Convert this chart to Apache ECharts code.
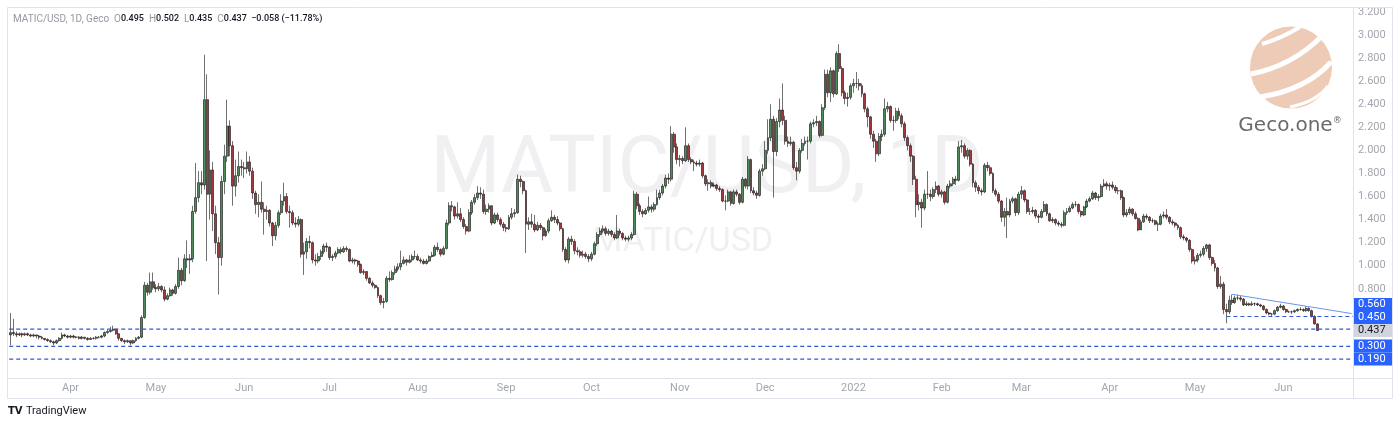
<!DOCTYPE html>
<html><head><meta charset="utf-8">
<script src="https://cdn.jsdelivr.net/npm/echarts@6/dist/echarts.min.js"></script>
<style>html,body{margin:0;padding:0;background:#fff}#c{width:1400px;height:425px}</style>
</head><body><div id="c"></div>
<script>
// ---------------- DATA ----------------
const startDate = '2021-03-11';
const futureDays = 12;          // empty days right of the last candle
const firstOpen = 0.40;
// daily closes, month by month
const closes = [
 // Mar 2021 (11-31)
 0.42,0.41,0.40,0.41,0.40,0.41,0.40,0.39,0.40,0.39,0.38,0.37,0.36,0.35,0.34,0.33,0.35,0.37,0.40,0.39,0.38,
 // Apr 2021
 0.39,0.38,0.38,0.37,0.38,0.37,0.36,0.37,0.37,0.38,0.38,0.39,0.42,0.43,0.44,0.45,0.41,0.37,0.35,0.34,0.35,0.33,0.35,0.37,0.38,0.55,0.83,0.77,0.86,0.81,
 // May 2021
 0.80,0.82,0.79,0.71,0.74,0.79,0.76,0.82,0.96,0.87,1.06,1.05,1.06,1.47,1.59,1.72,1.70,2.44,1.62,1.83,1.45,1.20,1.07,1.73,1.95,2.21,2.04,1.69,1.78,1.86,1.85,
 // Jun 2021
 1.84,1.90,1.82,1.63,1.53,1.55,1.49,1.47,1.48,1.37,1.26,1.35,1.46,1.56,1.60,1.47,1.46,1.37,1.36,1.40,1.10,1.12,1.21,1.20,1.05,1.04,1.08,1.12,1.17,1.16,
 // Jul 2021
 1.07,1.08,1.11,1.14,1.12,1.15,1.14,1.04,1.05,1.04,1.01,0.94,0.95,0.89,0.85,0.83,0.81,0.74,0.68,0.69,0.89,0.88,0.94,0.97,0.99,1.02,1.05,1.03,1.05,1.08,1.08,
 // Aug 2021
 1.05,1.04,1.02,1.04,1.08,1.09,1.16,1.14,1.10,1.15,1.37,1.52,1.51,1.43,1.45,1.40,1.34,1.30,1.46,1.55,1.59,1.63,1.62,1.47,1.49,1.52,1.37,1.44,1.40,1.36,1.33,
 // Sep 2021
 1.32,1.42,1.45,1.46,1.75,1.73,1.65,1.36,1.38,1.36,1.31,1.35,1.33,1.26,1.30,1.39,1.42,1.40,1.37,1.32,1.14,1.05,1.23,1.21,1.13,1.12,1.09,1.10,1.08,1.06,
 // Oct 2021
 1.10,1.19,1.27,1.30,1.32,1.28,1.30,1.27,1.24,1.30,1.28,1.24,1.23,1.24,1.27,1.62,1.52,1.47,1.45,1.48,1.51,1.49,1.53,1.59,1.63,1.69,1.76,1.75,2.14,2.03,1.92,
 // Nov 2021
 1.93,1.91,2.04,1.92,1.90,1.89,1.88,1.89,1.78,1.71,1.72,1.69,1.70,1.67,1.66,1.56,1.56,1.64,1.54,1.64,1.62,1.55,1.75,1.69,1.92,1.65,1.63,1.61,1.82,1.84,
 // Dec 2021
 2.00,2.11,2.27,1.99,2.25,2.35,2.26,2.08,2.06,2.07,1.85,1.82,2.00,2.06,2.08,2.08,2.23,2.24,2.25,2.13,2.37,2.66,2.50,2.69,2.49,2.84,2.71,2.50,2.45,2.46,2.56,
 // Jan 2022
 2.58,2.58,2.56,2.49,2.36,2.29,2.14,2.08,1.97,2.12,2.14,2.36,2.38,2.26,2.26,2.34,2.30,2.23,2.11,2.04,1.95,1.75,1.53,1.55,1.50,1.62,1.62,1.60,1.66,1.69,1.62,
 // Feb 2022
 1.64,1.55,1.69,1.71,1.75,1.74,2.03,2.04,1.95,2.00,1.88,1.72,1.68,1.65,1.64,1.87,1.85,1.80,1.65,1.62,1.56,1.42,1.47,1.44,1.56,1.58,1.46,1.62,
 // Mar 2022
 1.65,1.57,1.47,1.47,1.48,1.43,1.42,1.47,1.53,1.45,1.39,1.40,1.37,1.36,1.35,1.46,1.47,1.50,1.53,1.53,1.47,1.44,1.51,1.56,1.58,1.63,1.59,1.60,1.69,1.71,1.69,
 // Apr 2022
 1.70,1.68,1.65,1.65,1.59,1.44,1.46,1.49,1.45,1.41,1.31,1.38,1.43,1.42,1.39,1.39,1.36,1.36,1.43,1.44,1.42,1.38,1.37,1.35,1.33,1.25,1.24,1.22,1.14,1.04,
 // May 2022
 1.05,1.09,1.10,1.15,1.18,1.07,1.02,0.98,0.82,0.84,0.62,0.60,0.70,0.68,0.72,0.72,0.71,0.66,0.67,0.66,0.67,0.67,0.66,0.65,0.62,0.59,0.58,0.58,0.61,0.64,0.65,
 // Jun 2022 (1-13)
 0.62,0.60,0.60,0.60,0.61,0.62,0.62,0.61,0.63,0.61,0.56,0.495,0.437
];
const highs = [
 0.59,0.54,0.43,0.42,0.42,0.42,0.42,0.41,0.41,0.40,0.40,0.39,0.37,0.37,0.36,0.35,0.36,0.38,0.42,0.41,0.40,
 0.40,0.40,0.39,0.39,0.39,0.38,0.38,0.38,0.38,0.39,0.39,0.40,0.43,0.45,0.47,0.48,0.45,0.41,0.37,0.36,0.36,0.35,0.36,0.38,0.39,0.57,0.86,0.85,0.94,0.94,
 0.84,0.85,0.83,0.82,0.76,0.81,0.80,0.84,1.07,0.98,1.10,1.22,1.10,1.52,1.89,1.82,1.82,2.83,2.66,2.00,1.90,1.52,1.25,1.78,2.05,2.44,2.26,2.08,1.92,1.99,1.92,
 1.90,1.99,1.95,1.85,1.65,1.62,1.73,1.55,1.52,1.49,1.38,1.38,1.48,1.62,1.72,1.63,1.52,1.48,1.42,1.43,1.41,1.20,1.24,1.26,1.21,1.10,1.11,1.14,1.19,1.20,
 1.17,1.10,1.13,1.16,1.16,1.17,1.17,1.15,1.07,1.06,1.05,1.02,0.97,0.95,0.90,0.87,0.84,0.82,0.75,0.72,0.91,0.95,0.96,1.00,1.02,1.13,1.08,1.06,1.09,1.10,1.13,
 1.10,1.07,1.06,1.06,1.09,1.12,1.18,1.20,1.15,1.17,1.40,1.55,1.56,1.52,1.55,1.50,1.42,1.36,1.49,1.57,1.62,1.69,1.68,1.66,1.53,1.54,1.52,1.46,1.46,1.42,1.38,
 1.36,1.44,1.50,1.49,1.79,1.78,1.74,1.66,1.42,1.45,1.44,1.38,1.37,1.34,1.32,1.41,1.48,1.44,1.43,1.38,1.33,1.16,1.25,1.26,1.23,1.16,1.14,1.13,1.12,1.10,
 1.12,1.21,1.29,1.33,1.35,1.34,1.32,1.31,1.29,1.44,1.32,1.29,1.26,1.26,1.29,1.65,1.64,1.54,1.49,1.50,1.60,1.53,1.55,1.66,1.66,1.71,1.79,1.80,2.21,2.16,2.06,
 1.96,1.95,2.20,2.06,1.94,1.92,1.91,1.92,1.90,1.79,1.75,1.74,1.72,1.71,1.69,1.67,1.61,1.66,1.65,1.66,1.66,1.63,1.77,1.76,1.95,1.93,1.68,1.65,1.84,1.88,
 2.08,2.27,2.40,2.30,2.28,2.45,2.58,2.30,2.12,2.12,2.08,1.90,2.02,2.10,2.12,2.12,2.25,2.27,2.30,2.26,2.40,2.70,2.70,2.72,2.70,2.86,2.92,2.73,2.52,2.50,2.58,
 2.62,2.68,2.62,2.58,2.50,2.38,2.30,2.17,2.10,2.15,2.18,2.45,2.42,2.39,2.30,2.37,2.37,2.32,2.25,2.13,2.06,1.96,1.78,1.62,1.58,1.66,1.82,1.66,1.68,1.73,1.70,
 1.66,1.65,1.71,1.74,1.77,1.78,2.08,2.09,2.06,2.02,2.01,1.89,1.74,1.70,1.67,1.89,1.90,1.87,1.81,1.67,1.64,1.57,1.50,1.59,1.58,1.60,1.59,1.64,
 1.69,1.66,1.58,1.50,1.51,1.49,1.45,1.49,1.56,1.54,1.46,1.42,1.41,1.39,1.38,1.48,1.50,1.52,1.55,1.56,1.54,1.48,1.52,1.58,1.60,1.65,1.64,1.62,1.71,1.75,1.73,
 1.72,1.73,1.70,1.68,1.66,1.60,1.49,1.51,1.50,1.47,1.42,1.40,1.45,1.45,1.43,1.41,1.40,1.38,1.45,1.47,1.49,1.43,1.40,1.38,1.36,1.34,1.27,1.25,1.23,1.15,
 1.08,1.11,1.13,1.17,1.19,1.19,1.08,1.05,0.99,0.91,0.86,0.67,0.74,0.75,0.74,0.75,0.74,0.72,0.69,0.68,0.69,0.68,0.68,0.67,0.66,0.63,0.60,0.59,0.62,0.65,0.67,
 0.66,0.63,0.61,0.61,0.62,0.63,0.64,0.63,0.65,0.64,0.62,0.57,0.502
];
const lows = [
 0.31,0.39,0.38,0.39,0.38,0.39,0.39,0.38,0.38,0.37,0.36,0.36,0.35,0.34,0.33,0.31,0.32,0.34,0.36,0.38,0.37,
 0.37,0.37,0.37,0.36,0.36,0.36,0.35,0.36,0.36,0.36,0.37,0.37,0.38,0.41,0.42,0.43,0.40,0.35,0.34,0.32,0.33,0.31,0.32,0.34,0.36,0.37,0.54,0.74,0.75,0.79,
 0.77,0.78,0.77,0.69,0.70,0.73,0.74,0.75,0.80,0.83,0.86,0.98,0.93,1.03,1.45,1.55,1.62,1.66,1.04,1.40,1.30,1.10,0.75,1.00,1.62,1.90,1.95,1.52,1.60,1.72,1.78,
 1.76,1.80,1.78,1.58,1.45,1.42,1.46,1.27,1.40,1.34,1.17,1.22,1.33,1.44,1.52,1.45,1.33,1.35,1.33,1.34,1.07,0.92,1.06,1.15,1.02,1.00,1.02,1.05,1.10,1.12,
 1.05,1.04,1.06,1.10,1.10,1.11,1.12,1.03,1.02,1.01,0.99,0.93,0.92,0.87,0.84,0.81,0.80,0.72,0.66,0.63,0.68,0.86,0.87,0.92,0.95,0.96,1.01,1.00,1.02,1.03,1.06,
 1.04,1.02,1.01,1.01,1.03,1.07,1.08,1.12,1.08,1.09,1.14,1.35,1.47,1.40,1.41,1.38,1.32,1.27,1.29,1.44,1.53,1.57,1.58,1.45,1.44,1.46,1.35,1.36,1.38,1.34,1.30,
 1.29,1.31,1.40,1.42,1.45,1.68,1.62,1.11,1.31,1.33,1.29,1.30,1.31,1.22,1.25,1.28,1.38,1.37,1.35,1.30,1.12,1.03,1.02,1.18,1.10,1.09,1.07,1.07,1.06,1.03,
 1.04,1.09,1.17,1.25,1.28,1.26,1.26,1.25,1.22,1.23,1.26,1.22,1.21,1.21,1.22,1.26,1.49,1.44,1.42,1.44,1.46,1.46,1.47,1.52,1.57,1.61,1.67,1.71,1.73,1.98,1.88,
 1.86,1.88,1.90,1.90,1.88,1.82,1.86,1.86,1.76,1.69,1.65,1.67,1.68,1.65,1.64,1.55,1.48,1.55,1.52,1.53,1.60,1.53,1.54,1.67,1.66,1.63,1.61,1.58,1.60,1.78,
 1.83,1.97,2.08,1.59,1.95,2.20,2.22,2.05,2.03,2.04,1.83,1.74,1.80,1.98,2.04,1.92,2.06,2.20,2.21,2.11,2.12,2.35,2.46,2.42,2.46,2.48,2.68,2.47,2.40,2.38,2.44,
 2.50,2.54,2.52,2.46,2.33,2.20,2.10,2.02,1.90,1.95,2.08,2.12,2.33,2.24,2.17,2.24,2.27,2.20,2.08,2.00,1.90,1.70,1.42,1.48,1.33,1.48,1.58,1.56,1.58,1.63,1.60,
 1.59,1.53,1.54,1.67,1.69,1.70,1.73,1.98,1.93,1.92,1.86,1.68,1.64,1.62,1.61,1.63,1.82,1.78,1.63,1.60,1.54,1.38,1.34,1.24,1.42,1.54,1.43,1.44,
 1.58,1.55,1.45,1.44,1.45,1.41,1.37,1.41,1.46,1.43,1.38,1.37,1.35,1.34,1.33,1.34,1.44,1.46,1.49,1.51,1.45,1.42,1.43,1.50,1.55,1.57,1.57,1.56,1.59,1.68,1.66,
 1.65,1.66,1.63,1.62,1.57,1.42,1.42,1.44,1.43,1.40,1.30,1.31,1.37,1.40,1.37,1.37,1.35,1.30,1.35,1.41,1.40,1.36,1.35,1.33,1.31,1.23,1.22,1.20,1.12,1.02,
 1.01,1.03,1.07,1.08,1.12,1.05,1.00,0.95,0.80,0.80,0.58,0.50,0.58,0.66,0.67,0.70,0.69,0.65,0.65,0.65,0.65,0.65,0.65,0.64,0.61,0.58,0.57,0.56,0.57,0.60,0.63,
 0.61,0.59,0.59,0.58,0.59,0.60,0.61,0.60,0.60,0.60,0.55,0.49,0.435
];
// horizontal levels drawn on the chart
const levelLines = [0.45, 0.30, 0.19];
const shortLevel = 0.56, shortLevelFrom = '2022-05-12';
const trendFrom = ['2022-05-14', 0.752], trendToValue = 0.585;
// price-scale badges
const badgeBlue = [0.56, 0.45, 0.30, 0.19];
const badgeLast = 0.437;
// header legend
const header = {sym:'MATIC/USD, 1D, Geco', o:'0.495', h:'0.502', l:'0.435', c:'0.437', chg:'\u22120.058 (\u221211.78%)'};
const monthNames = ['Jan','Feb','Mar','Apr','May','Jun','Jul','Aug','Sep','Oct','Nov','Dec'];

// ---------------- BUILD ----------------
const dates = [];
{
  const d0 = new Date(startDate + 'T00:00:00Z');
  for (let i = 0; i < closes.length + futureDays; i++) {
    const d = new Date(d0.getTime() + i * 86400000);
    dates.push(d.toISOString().slice(0, 10));
  }
}
const ohlc = closes.map((c, i) => [i === 0 ? firstOpen : closes[i - 1], c, lows[i], highs[i]]);

const FONT = 'Roboto, "Noto Sans", sans-serif';
const chart = echarts.init(document.getElementById('c'), null, {renderer: 'canvas'});
const blue = '#2962ff';
const dashBlue = '#2f5ad0';
const lastDate = dates[dates.length - 1];

chart.setOption({
  animation: false,
  backgroundColor: '#ffffff',
  grid: {left: 9.3, right: 46.9, top: 12, bottom: 44, containLabel: false},
  xAxis: {
    type: 'category', data: dates, boundaryGap: true,
    axisLine: {show: false}, axisTick: {show: false}, splitLine: {show: false},
    axisLabel: {
      interval: (idx, val) => val.slice(8) === '01',
      formatter: (val) => { const m = +val.slice(5, 7); return m === 1 ? val.slice(0, 4) : monthNames[m - 1]; },
      color: '#a3a6ae', fontSize: 11, fontFamily: FONT, margin: 2
    }
  },
  yAxis: {
    type: 'value', position: 'right', min: 0, max: 3.2, interval: 0.2,
    axisLine: {show: false}, axisTick: {show: false}, splitLine: {show: false},
    axisLabel: {
      formatter: (v) => v >= 0.79 ? v.toFixed(3) : '',
      color: '#a3a6ae', fontSize: 11, fontFamily: FONT, margin: 5
    }
  },
  series: [{
    type: 'candlestick', data: ohlc, barWidth: 2.4, z: 3,
    itemStyle: {color: '#4f8a5a', color0: '#a0393e', borderColor: '#111111', borderColor0: '#111111', borderWidth: 0.6}
  }]
});

// ---------- overlays: levels, frame, legend, watermark, logos, badges ----------
const px = (d, v) => chart.convertToPixel({xAxisIndex: 0, yAxisIndex: 0}, [d, v]);
const gridL = chart.convertToPixel({xAxisIndex: 0}, dates[0]) - 1.5;
const gridR = 1353;
const frame = '#e0e3eb';
const g = [];
g.push({type: 'text', z: -5, silent: true, style: {text: 'MATIC/USD, 1D', x: 707, y: 172, align: 'center', verticalAlign: 'middle', font: '80px ' + FONT, fill: '#f0f0f3'}});
g.push({type: 'text', z: -5, silent: true, style: {text: 'MATIC/USD', x: 683, y: 242, align: 'center', verticalAlign: 'middle', font: '34px ' + FONT, fill: '#f0f0f3'}});
// dashed level lines
levelLines.forEach(v => {
  const y = chart.convertToPixel({yAxisIndex: 0}, v);
  g.push({type: 'line', z: 30, silent: true, shape: {x1: gridL, y1: y, x2: gridR, y2: y}, style: {stroke: dashBlue, lineWidth: 1.1, lineDash: [4, 3]}});
});
{
  const p0 = px(shortLevelFrom, shortLevel);
  g.push({type: 'line', z: 30, silent: true, shape: {x1: p0[0], y1: p0[1], x2: gridR, y2: p0[1]}, style: {stroke: dashBlue, lineWidth: 1.1, lineDash: [4, 3]}});
  const a = px(trendFrom[0], trendFrom[1]), b = px(lastDate, trendToValue);
  g.push({type: 'line', z: 30, silent: true, shape: {x1: a[0], y1: a[1], x2: b[0], y2: b[1]}, style: {stroke: '#6b96ee', lineWidth: 1}});
}
// frame lines
[[7.5, 7.5, 1392.5, 7.5], [7.5, 398.5, 1392.5, 398.5], [7.5, 7.5, 7.5, 398.5], [1392.5, 7.5, 1392.5, 398.5],
 [1353.5, 7.5, 1353.5, 398.5], [7.5, 378.5, 1392.5, 378.5]].forEach(s => g.push({type: 'line', silent: true, z: 50, shape: {x1: s[0], y1: s[1], x2: s[2], y2: s[3]}, style: {stroke: frame, lineWidth: 1}}));
// header
g.push({type: 'text', z: 60, style: {
  text: `{g|${header.sym}  O}{d|${header.o}}{g|  H}{d|${header.h}}{g|  L}{d|${header.l}}{g|  C}{d|${header.c}}{d|  ${header.chg}}`,
  x: 13, y: 19, verticalAlign: 'middle',
  rich: {g: {fill: '#9598a1', font: '10px ' + FONT}, d: {fill: '#131722', font: '500 9px ' + FONT}}
}});
// Geco.one logo
g.push({type: 'circle', z: 40, silent: true, shape: {cx: 1291, cy: 67.5, r: 41}, style: {fill: '#edcbb7'}});
[[1262, 44, 1282, 38, 1300, 27, 4], [1251, 74, 1292, 66, 1322, 36, 5], [1260, 97, 1306, 90, 1331, 62, 5], [1290, 107, 1316, 102, 1328, 86, 3]].forEach(s =>
  g.push({type: 'bezierCurve', z: 41, silent: true, shape: {x1: s[0], y1: s[1], cpx1: s[2], cpy1: s[3], x2: s[4], y2: s[5]}, style: {stroke: '#ffffff', lineWidth: s[6], fill: 'none'}}));
g.push({type: 'text', z: 41, silent: true, style: {text: '{a|Geco.one}{r|\u00ae}', x: 1290, y: 126, align: 'center', verticalAlign: 'middle',
  rich: {a: {font: '20px "DejaVu Sans", sans-serif', fill: '#6a6a6a'}, r: {font: '9px "DejaVu Sans", sans-serif', fill: '#6a6a6a', verticalAlign: 'top'}}}});
// TradingView logo
g.push({type: 'text', z: 60, silent: true, style: {text: '{l|TV} {t|TradingView}', x: 8, y: 411, verticalAlign: 'middle',
  rich: {l: {font: 'bold 10px "DejaVu Sans", sans-serif', fill: '#131722'}, t: {font: '11px ' + FONT, fill: '#131722'}}}});

// badges (stacked from the bottom so they do not overlap)
const badges = badgeBlue.map(v => ({v, last: false})).concat([{v: badgeLast, last: true}]).sort((a, b) => a.v - b.v);
const H = 13;
let prevY = Infinity;
badges.forEach(b => {
  let y = chart.convertToPixel({yAxisIndex: 0}, b.v);
  y = Math.min(y, prevY - H);
  prevY = y;
  g.push({type: 'rect', z: 70, silent: true, shape: {x: 1354, y: y - H / 2, width: 38, height: H}, style: {fill: b.last ? '#d1d4dc' : blue}});
  g.push({type: 'text', z: 71, silent: true, style: {text: b.v.toFixed(3), x: 1358, y: y, verticalAlign: 'middle', font: '11px ' + FONT, fill: b.last ? '#131722' : '#ffffff'}});
});
chart.setOption({graphic: {elements: g}});
</script>
</body></html>
